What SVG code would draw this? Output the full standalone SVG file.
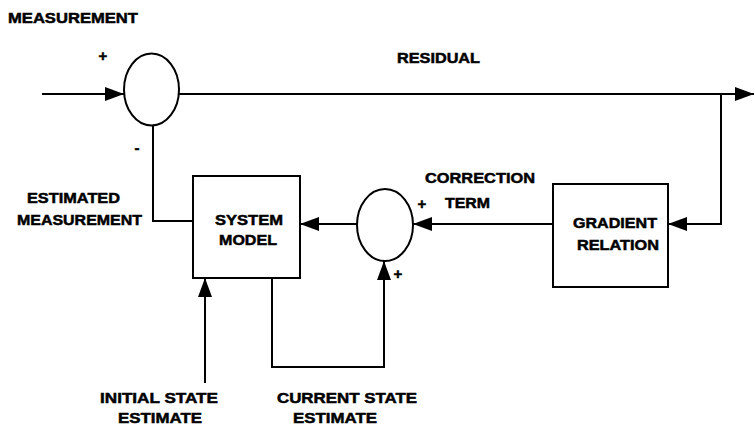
<svg xmlns="http://www.w3.org/2000/svg" width="755" height="432" viewBox="0 0 755 432">
<defs>
<marker id="arr" markerUnits="userSpaceOnUse" markerWidth="20" markerHeight="16" refX="19" refY="7" orient="auto">
<path d="M0,0 L19,7 L0,14 z" fill="#000"/>
</marker>
<style>
.ln{fill:none;stroke:#000;stroke-width:2}
.sh{fill:#fff;stroke:#000;stroke-width:2}
text{font-family:"Liberation Sans",Arial,sans-serif;font-weight:bold;font-size:15px;fill:#000;stroke:#000;stroke-width:0.5}
.c{text-anchor:middle}
</style>
</defs>
<rect width="755" height="432" fill="#fff"/>

<g id="connectors">
<path class="ln" d="M42,94 L124,94" marker-end="url(#arr)"/>
<path class="ln" d="M179,94 L754,94" marker-end="url(#arr)"/>
<path class="ln" d="M721,94 L721,224 L668,224" marker-end="url(#arr)"/>
<path class="ln" d="M553,224 L413,224" marker-end="url(#arr)"/>
<path class="ln" d="M357,224 L300,224" marker-end="url(#arr)"/>
<path class="ln" d="M153,125 L153,221 L193,221"/>
<path class="ln" d="M205,383 L205,278" marker-end="url(#arr)"/>
<path class="ln" d="M272,278 L272,367 L384,367 L384,261" marker-end="url(#arr)"/>
</g>

<g id="sum1">
<ellipse class="sh" cx="151.5" cy="89.5" rx="27.5" ry="36"/>
</g>
<g id="sum2">
<ellipse class="sh" cx="385" cy="225" rx="28" ry="36"/>
</g>
<g id="system-model">
<rect class="sh" x="193" y="176" width="107" height="102"/>
<text x="215" y="225" textLength="68" lengthAdjust="spacingAndGlyphs">SYSTEM</text>
<text x="219" y="245" textLength="58" lengthAdjust="spacingAndGlyphs">MODEL</text>
</g>
<g id="gradient-relation">
<rect class="sh" x="553" y="184" width="115" height="103"/>
<text x="573" y="228" textLength="84" lengthAdjust="spacingAndGlyphs">GRADIENT</text>
<text x="577" y="250" textLength="82" lengthAdjust="spacingAndGlyphs">RELATION</text>
</g>

<g id="labels">
<text x="8" y="23" textLength="130" lengthAdjust="spacingAndGlyphs">MEASUREMENT</text>
<text x="397" y="63" textLength="83" lengthAdjust="spacingAndGlyphs">RESIDUAL</text>
<text x="27" y="203" textLength="93" lengthAdjust="spacingAndGlyphs">ESTIMATED</text>
<text x="17" y="225" textLength="125" lengthAdjust="spacingAndGlyphs">MEASUREMENT</text>
<text x="425" y="183" textLength="110" lengthAdjust="spacingAndGlyphs">CORRECTION</text>
<text x="445" y="208" textLength="45" lengthAdjust="spacingAndGlyphs">TERM</text>
<text x="100" y="403" textLength="118" lengthAdjust="spacingAndGlyphs">INITIAL STATE</text>
<text x="118" y="423" textLength="84" lengthAdjust="spacingAndGlyphs">ESTIMATE</text>
<text x="277" y="403" textLength="140" lengthAdjust="spacingAndGlyphs">CURRENT STATE</text>
<text x="293" y="423" textLength="84" lengthAdjust="spacingAndGlyphs">ESTIMATE</text>
<text x="103" y="61" class="c" font-size="12">+</text>
<text x="137" y="153" class="c" font-size="12">-</text>
<text x="422" y="209" class="c" font-size="12">+</text>
<text x="398" y="279" class="c" font-size="12">+</text>
</g>
</svg>
